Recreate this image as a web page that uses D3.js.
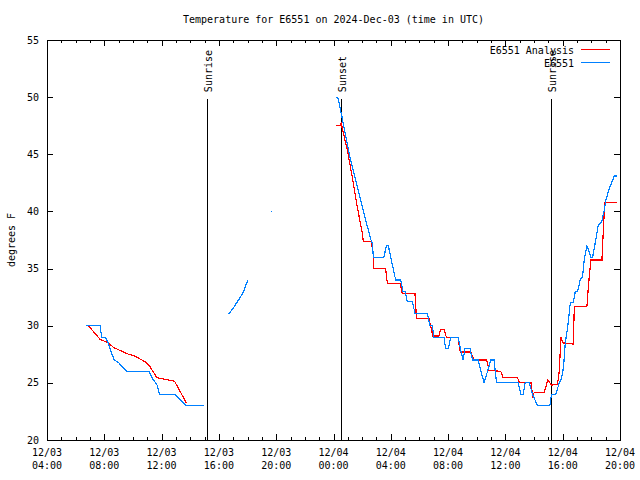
<!DOCTYPE html>
<html>
<head>
<meta charset="utf-8">
<script src="https://cdn.jsdelivr.net/npm/d3@7/dist/d3.min.js"></script>
<style>
  html, body { margin: 0; padding: 0; background: #fff; }
  svg { display: block; }
  text { font-family: "DejaVu Sans Mono", "Liberation Mono", monospace; font-size: 10px; fill: #000; }
</style>
</head>
<body>
<svg id="chart" width="640" height="480"></svg>
<script>
// ---- Data (time = hours since 2024-12-03 00:00 UTC) ----
const title = "Temperature for E6551 on 2024-Dec-03 (time in UTC)";
const yLabel = "degrees F";
const seriesNames = ["E6551 Analysis", "E6551"];
const seriesColors = ["#ff0000", "#0080ff"];

const xMajorTicks = [4, 8, 12, 16, 20, 24, 28, 32, 36, 40, 44];
const xTickDates = ["12/03","12/03","12/03","12/03","12/03","12/04","12/04","12/04","12/04","12/04","12/04"];
const xTickTimes = ["04:00","08:00","12:00","16:00","20:00","00:00","04:00","08:00","12:00","16:00","20:00"];
const yTicks = [20, 25, 30, 35, 40, 45, 50, 55];

const sunEvents = [
  { t: 15.19, label: "Sunrise" },
  { t: 24.56, label: "Sunset" },
  { t: 39.24, label: "Sunrise" }
];

// Analysis (red)
const analysisSeg1 = [
  [6.89,30.0],[7.71,28.8],[8.29,28.5],[8.64,28.1],[9.69,27.5],[10.03,27.4],
  [10.85,26.85],[11.20,26.4],[11.67,25.45],[12.25,25.3],[12.90,25.15],[13.72,23.26]
];
const analysisSeg2 = [
  [24.14,47.5],[24.44,47.5],[24.54,47.7],[24.61,47.3],[24.96,45.4],[25.31,43.0],
  [25.66,40.4],[26.01,38.1],[26.08,37.4],[26.64,37.4],[26.78,36.2],[26.82,35.0],
  [27.64,35.0],[27.76,33.7],[28.64,33.7],[28.81,32.8],[29.69,32.8],[29.79,30.65],
  [30.66,30.65],[30.94,29.1],[31.36,29.1],[31.48,29.7],[31.71,29.7],[31.88,29.0],
  [32.69,29.0],[32.81,27.9],[32.88,27.7],[33.58,27.7],[33.81,27.0],[34.70,27.0],
  [34.86,26.1],[35.68,26.0],[35.84,25.45],[36.85,25.45],[36.96,25.05],[37.78,25.05],
  [37.90,23.85],[38.01,24.14],[38.71,24.14],[38.95,25.25],[39.06,25.1],[39.22,24.8],
  [39.64,24.9],[39.76,26.0],[39.88,29.04],[39.99,28.5],[40.74,28.4],[40.81,31.67],
  [41.69,31.67],[41.81,33.7],[41.97,35.75],[42.74,35.75],[42.86,39.0],[42.95,40.8],
  [43.79,40.8]
];

// Observations (blue)
const obsSeg1 = [
  [6.73,30.0],[7.71,30.0],[7.81,29.0],[8.06,29.0],[8.27,28.5],[8.48,27.7],[8.69,27.0],
  [8.97,26.8],[9.57,26.0],[11.11,26.0],[11.41,25.3],[11.69,24.8],[11.85,24.0],
  [12.90,24.0],[13.72,23.0],[14.93,23.0]
];
const obsSeg2 = [
  [16.68,31.0],[17.03,31.6],[17.50,32.5],[17.73,33.0],[17.90,33.6],[18.03,34.0]
];
const obsIsolated = [
  [19.69,40.0]
];
const obsSeg4 = [
  [24.14,50.0],[24.30,50.0],[24.54,48.6],[25.19,44.5],[25.89,41.0],[26.36,38.7],
  [26.64,37.4],[26.71,37.2],[26.78,36.0],[27.52,36.0],[27.69,37.0],[27.83,37.0],
  [27.99,36.0],[28.34,34.0],[28.69,34.0],[28.85,33.0],[29.00,33.0],[29.15,32.1],
  [29.50,32.1],[29.69,31.1],[30.55,31.1],[30.73,30.0],[30.90,30.0],[31.01,29.0],
  [31.71,29.0],[31.83,28.0],[32.02,28.0],[32.18,29.0],[32.69,29.0],[32.88,27.9],
  [33.04,27.0],[33.18,28.0],[33.53,28.0],[33.70,27.0],[34.09,27.0],[34.51,25.0],
  [34.75,26.0],[34.98,27.0],[35.21,27.0],[35.38,25.0],[36.89,25.0],[37.08,24.0],
  [37.24,24.0],[37.38,25.0],[37.66,25.0],[37.90,24.0],[38.24,23.0],[39.10,23.0],
  [39.22,24.0],[39.52,24.0],[39.76,25.0],[39.92,25.4],[40.06,26.4],[40.18,28.5],
  [40.34,29.8],[40.53,32.0],[40.74,32.0],[40.88,33.0],[41.04,33.0],[41.22,34.0],
  [41.39,34.3],[41.50,35.75],[41.69,37.0],[41.97,36.0],[42.09,36.0],[42.32,37.6],
  [42.48,38.8],[42.72,39.1],[42.90,40.1],[43.02,41.0],[43.25,42.0],[43.49,42.75],
  [43.60,43.1],[43.79,43.1]
];

const analysisSegments = [analysisSeg1, analysisSeg2];
const obsSegments = [obsSeg1, obsSeg2, obsSeg4];

// ---- Drawing ----
const M = { left: 47, right: 620, top: 40, bottom: 440 };
const svg = d3.select("#chart");

const x = d3.scaleLinear().domain([4, 44]).range([M.left, M.right]);
const y = d3.scaleLinear().domain([20, 55]).range([M.bottom, M.top]);

const xMinor = d3.range(4, 45, 1).filter(v => !xMajorTicks.includes(v));

function styleAxis(g) {
  g.selectAll(".domain").remove();
  g.selectAll("line").attr("stroke", "#000").attr("shape-rendering", "crispEdges");
  g.selectAll("text").remove();
}

// bottom major/minor ticks
svg.append("g").attr("transform", `translate(0,${M.bottom})`)
  .call(d3.axisBottom(x).tickValues(xMajorTicks).tickSize(-6).tickSizeOuter(0)).call(styleAxis);
svg.append("g").attr("transform", `translate(0,${M.bottom})`)
  .call(d3.axisBottom(x).tickValues(xMinor).tickSize(-3).tickSizeOuter(0)).call(styleAxis);
// top mirror
svg.append("g").attr("transform", `translate(0,${M.top})`)
  .call(d3.axisTop(x).tickValues(xMajorTicks).tickSize(-6).tickSizeOuter(0)).call(styleAxis);
svg.append("g").attr("transform", `translate(0,${M.top})`)
  .call(d3.axisTop(x).tickValues(xMinor).tickSize(-3).tickSizeOuter(0)).call(styleAxis);
// left / right
svg.append("g").attr("transform", `translate(${M.left},0)`)
  .call(d3.axisLeft(y).tickValues(yTicks).tickSize(-6).tickSizeOuter(0)).call(styleAxis);
svg.append("g").attr("transform", `translate(${M.right},0)`)
  .call(d3.axisRight(y).tickValues(yTicks).tickSize(-6).tickSizeOuter(0)).call(styleAxis);

// y tick labels
svg.append("g").selectAll("text").data(yTicks).join("text")
  .attr("x", M.left - 8).attr("y", d => y(d)).attr("dy", "0.35em")
  .attr("text-anchor", "end").text(d => d);

// x tick labels
const xl = svg.append("g").selectAll("text").data(xMajorTicks).join("text")
  .attr("text-anchor", "middle");
xl.append("tspan").attr("x", d => x(d)).attr("y", 456).text((d, i) => xTickDates[i]);
xl.append("tspan").attr("x", d => x(d)).attr("y", 469).text((d, i) => xTickTimes[i]);

// sun event lines + labels
sunEvents.forEach(ev => {
  const px = Math.floor(x(ev.t));
  svg.append("line")
    .attr("x1", px + 0.5).attr("x2", px + 0.5)
    .attr("y1", y(49.85)).attr("y2", M.bottom)
    .attr("stroke", "#000").attr("stroke-width", 1).attr("shape-rendering", "crispEdges");
  svg.append("text")
    .attr("transform", `translate(${px + 1.5},${y(50) - 5}) rotate(-90)`)
    .attr("dy", "0.35em").attr("text-anchor", "start").text(ev.label);
});

// data lines
const line = d3.line().x(d => x(d[0])).y(d => y(d[1]));
const dataG = svg.append("g");
analysisSegments.forEach(seg => {
  dataG.append("path").attr("d", line(seg)).attr("fill", "none")
    .attr("stroke", seriesColors[0]).attr("stroke-width", 1.2).attr("shape-rendering", "crispEdges");
});
obsSegments.forEach(seg => {
  dataG.append("path").attr("d", line(seg)).attr("fill", "none")
    .attr("stroke", seriesColors[1]).attr("stroke-width", 1.2).attr("shape-rendering", "crispEdges");
});
// isolated observation (single point, no neighbours)
dataG.selectAll("rect.iso").data(obsIsolated).join("rect").attr("class", "iso")
  .attr("x", d => Math.floor(x(d[0]))).attr("y", d => Math.floor(y(d[1])))
  .attr("width", 1).attr("height", 1).attr("fill", seriesColors[1])
  .attr("shape-rendering", "crispEdges");

// border
svg.append("rect").attr("x", M.left + 0.5).attr("y", M.top + 0.5)
  .attr("width", M.right - M.left).attr("height", M.bottom - M.top)
  .attr("fill", "none").attr("stroke", "#000").attr("shape-rendering", "crispEdges");

// title
svg.append("text").attr("x", (M.left + M.right) / 2).attr("y", 19).attr("dy", "0.35em")
  .attr("text-anchor", "middle").text(title);

// y label
svg.append("text").attr("transform", `translate(11,${(M.top + M.bottom) / 2}) rotate(-90)`)
  .attr("dy", "0.35em").attr("text-anchor", "middle").text(yLabel);

// legend
seriesNames.forEach((name, i) => {
  const ly = 50 + i * 13;
  svg.append("text").attr("x", 574).attr("y", ly).attr("dy", "0.35em")
    .attr("text-anchor", "end").text(name);
  svg.append("line").attr("x1", 581).attr("x2", 610)
    .attr("y1", ly - 0.5).attr("y2", ly - 0.5)
    .attr("stroke", seriesColors[i]).attr("stroke-width", 1).attr("shape-rendering", "crispEdges");
});
</script>
</body>
</html>
